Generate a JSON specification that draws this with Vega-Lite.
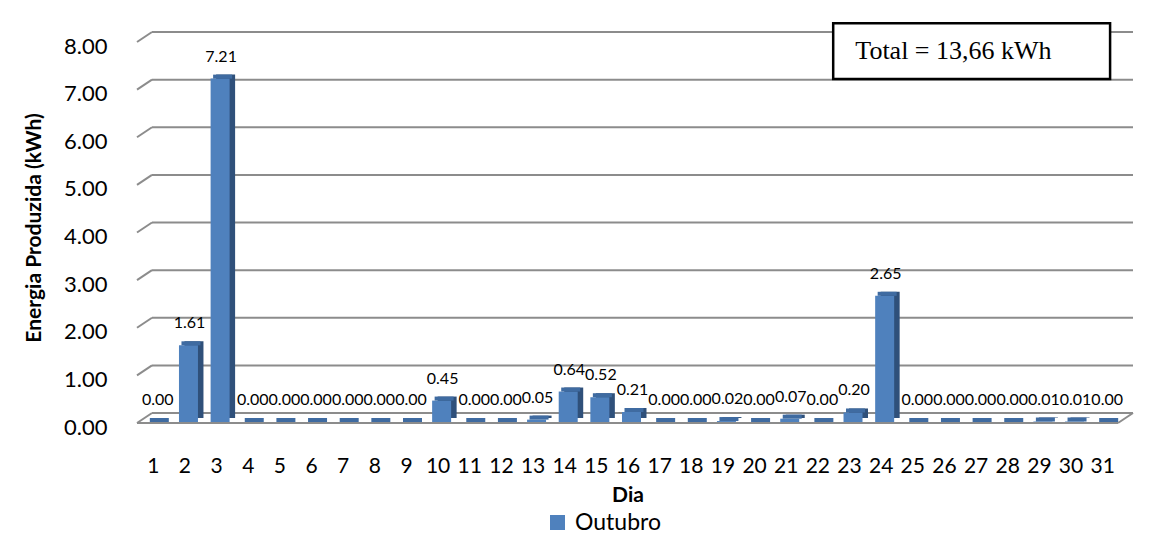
{
  "$schema": "https://vega.github.io/schema/vega-lite/v6.json",
  "autosize": {"type": "none"},
  "width": 991,
  "height": 381,
  "padding": {"left": 132, "top": 37, "right": 51, "bottom": 128},
  "background": "white",
  "config": {
    "view": {"stroke": null},
    "font": "Lato",
    "axis": {"labelColor": "#000", "titleColor": "#000", "labelFont": "Lato", "titleFont": "Lato"},
    "axisX": {"labelOverlap": false, "labelFlush": false, "labelSeparation": 0}
  },
  "datasets": {
    "dias": [
      {"Dia": 1, "Energia": 0.00, "Mes": "Outubro"},
      {"Dia": 2, "Energia": 1.61, "Mes": "Outubro"},
      {"Dia": 3, "Energia": 7.21, "Mes": "Outubro"},
      {"Dia": 4, "Energia": 0.00, "Mes": "Outubro"},
      {"Dia": 5, "Energia": 0.00, "Mes": "Outubro"},
      {"Dia": 6, "Energia": 0.00, "Mes": "Outubro"},
      {"Dia": 7, "Energia": 0.00, "Mes": "Outubro"},
      {"Dia": 8, "Energia": 0.00, "Mes": "Outubro"},
      {"Dia": 9, "Energia": 0.00, "Mes": "Outubro"},
      {"Dia": 10, "Energia": 0.45, "Mes": "Outubro"},
      {"Dia": 11, "Energia": 0.00, "Mes": "Outubro"},
      {"Dia": 12, "Energia": 0.00, "Mes": "Outubro"},
      {"Dia": 13, "Energia": 0.05, "Mes": "Outubro"},
      {"Dia": 14, "Energia": 0.64, "Mes": "Outubro"},
      {"Dia": 15, "Energia": 0.52, "Mes": "Outubro"},
      {"Dia": 16, "Energia": 0.21, "Mes": "Outubro"},
      {"Dia": 17, "Energia": 0.00, "Mes": "Outubro"},
      {"Dia": 18, "Energia": 0.00, "Mes": "Outubro"},
      {"Dia": 19, "Energia": 0.02, "Mes": "Outubro"},
      {"Dia": 20, "Energia": 0.00, "Mes": "Outubro"},
      {"Dia": 21, "Energia": 0.07, "Mes": "Outubro"},
      {"Dia": 22, "Energia": 0.00, "Mes": "Outubro"},
      {"Dia": 23, "Energia": 0.20, "Mes": "Outubro"},
      {"Dia": 24, "Energia": 2.65, "Mes": "Outubro"},
      {"Dia": 25, "Energia": 0.00, "Mes": "Outubro"},
      {"Dia": 26, "Energia": 0.00, "Mes": "Outubro"},
      {"Dia": 27, "Energia": 0.00, "Mes": "Outubro"},
      {"Dia": 28, "Energia": 0.00, "Mes": "Outubro"},
      {"Dia": 29, "Energia": 0.01, "Mes": "Outubro"},
      {"Dia": 30, "Energia": 0.01, "Mes": "Outubro"},
      {"Dia": 31, "Energia": 0.00, "Mes": "Outubro"}
    ],
    "grid": [{"v": 0}, {"v": 1}, {"v": 2}, {"v": 3}, {"v": 4}, {"v": 5}, {"v": 6}, {"v": 7}, {"v": 8}],
    "floor": [{"v": 0}],
    "nota": [{"texto": "Total = 13,66 kWh"}]
  },
  "layer": [
    {
      "data": {"name": "grid"},
      "mark": {"type": "rule", "color": "#8c8c8c", "strokeWidth": 2, "xOffset": 15, "x2Offset": 15, "yOffset": -5, "y2Offset": -5},
      "encoding": {
        "x": {"datum": 0.5, "type": "quantitative", "scale": {"domain": [0.5, 31.5], "nice": false, "zero": false},
              "axis": {"values": [1,2,3,4,5,6,7,8,9,10,11,12,13,14,15,16,17,18,19,20,21,22,23,24,25,26,27,28,29,30,31], "tickCount": 40, "format": "d", "title": "Dia", "grid": false, "ticks": false, "domain": false, "labelFontSize": 21, "labelPadding": 37, "titleFontSize": 21, "titleFontWeight": "bold", "titlePadding": 8, "labelFlush": false, "labelOverlap": false, "labelSeparation": 0}},
        "x2": {"datum": 31.5},
        "y": {"field": "v", "type": "quantitative", "scale": {"domain": [0, 8], "nice": false},
              "axis": {"values": [0,1,2,3,4,5,6,7,8], "tickCount": 10, "format": ".2f", "title": "Energia Produzida (kWh)", "grid": false, "ticks": false, "domain": false, "labelFontSize": 22, "labelPadding": 25, "labelOffset": 9, "titleFontSize": 21, "titleFontWeight": "bold", "titlePadding": 19}}
      }
    },
    {
      "data": {"name": "grid"},
      "mark": {"type": "rule", "color": "#8c8c8c", "strokeWidth": 2, "x2Offset": 15, "yOffset": 5, "y2Offset": -5},
      "encoding": {
        "x": {"datum": 0.5, "type": "quantitative"},
        "x2": {"datum": 0.5},
        "y": {"field": "v", "type": "quantitative"},
        "y2": {"field": "v"}
      }
    },
    {
      "data": {"name": "floor"},
      "mark": {"type": "rule", "color": "#8c8c8c", "strokeWidth": 2, "yOffset": 5, "y2Offset": 5},
      "encoding": {
        "x": {"datum": 0.5, "type": "quantitative"},
        "x2": {"datum": 31.5},
        "y": {"field": "v", "type": "quantitative"}
      }
    },
    {
      "data": {"name": "floor"},
      "mark": {"type": "rule", "color": "#8c8c8c", "strokeWidth": 2, "x2Offset": 15, "yOffset": 5, "y2Offset": -5},
      "encoding": {
        "x": {"datum": 31.5, "type": "quantitative"},
        "x2": {"datum": 31.5},
        "y": {"field": "v", "type": "quantitative"},
        "y2": {"field": "v"}
      }
    },
    {
      "data": {"name": "dias"},
      "mark": {"type": "bar", "color": "#2f507a", "size": 19, "xOffset": 9.5, "yOffset": 0, "y2Offset": 0},
      "encoding": {
        "x": {"field": "Dia", "type": "quantitative"},
        "y": {"field": "Energia", "type": "quantitative"},
        "y2": {"datum": 0}
      }
    },
    {
      "data": {"name": "dias"},
      "mark": {"type": "bar", "size": 19, "xOffset": 4, "yOffset": 4, "y2Offset": 4},
      "encoding": {
        "x": {"field": "Dia", "type": "quantitative"},
        "y": {"field": "Energia", "type": "quantitative"},
        "y2": {"datum": 0},
        "color": {"field": "Mes", "type": "nominal", "scale": {"range": ["#4f81bd"]},
                  "legend": {"title": null, "orient": "none", "legendX": 414, "legendY": 474, "symbolType": "square", "symbolSize": 225, "symbolStrokeWidth": 0, "labelFontSize": 23, "labelFont": "Lato", "labelColor": "#000", "padding": 0, "symbolOffset": 0, "labelOffset": 6}}
      }
    },
    {
      "data": {"name": "dias"},
      "mark": {"type": "bar", "color": "#3f6ba1", "size": 19, "xOffset": 6.5, "yOffset": 0, "y2Offset": 4},
      "encoding": {
        "x": {"field": "Dia", "type": "quantitative"},
        "y": {"field": "Energia", "type": "quantitative"},
        "y2": {"field": "Energia"}
      }
    },
    {
      "data": {"name": "dias"},
      "mark": {"type": "text", "font": "Lato", "fontSize": 16, "color": "#000", "baseline": "middle", "align": "center", "xOffset": 5, "yOffset": -18},
      "encoding": {
        "x": {"field": "Dia", "type": "quantitative"},
        "y": {"field": "Energia", "type": "quantitative"},
        "text": {"field": "Energia", "type": "quantitative", "format": ".2f"}
      }
    },
    {
      "data": {"name": "nota"},
      "mark": {"type": "rect", "fill": "white", "stroke": "#000", "strokeWidth": 2.5, "clip": false},
      "encoding": {
        "x": {"datum": 22.5, "type": "quantitative"},
        "x2": {"datum": 31.25},
        "y": {"datum": 8.29, "type": "quantitative"},
        "y2": {"datum": 7.12}
      }
    },
    {
      "data": {"name": "nota"},
      "mark": {"type": "text", "font": "Liberation Serif", "fontSize": 26, "color": "#000", "baseline": "middle", "align": "center"},
      "encoding": {
        "x": {"datum": 26.3, "type": "quantitative"},
        "y": {"datum": 7.71, "type": "quantitative"},
        "text": {"field": "texto"}
      }
    }
  ]
}
